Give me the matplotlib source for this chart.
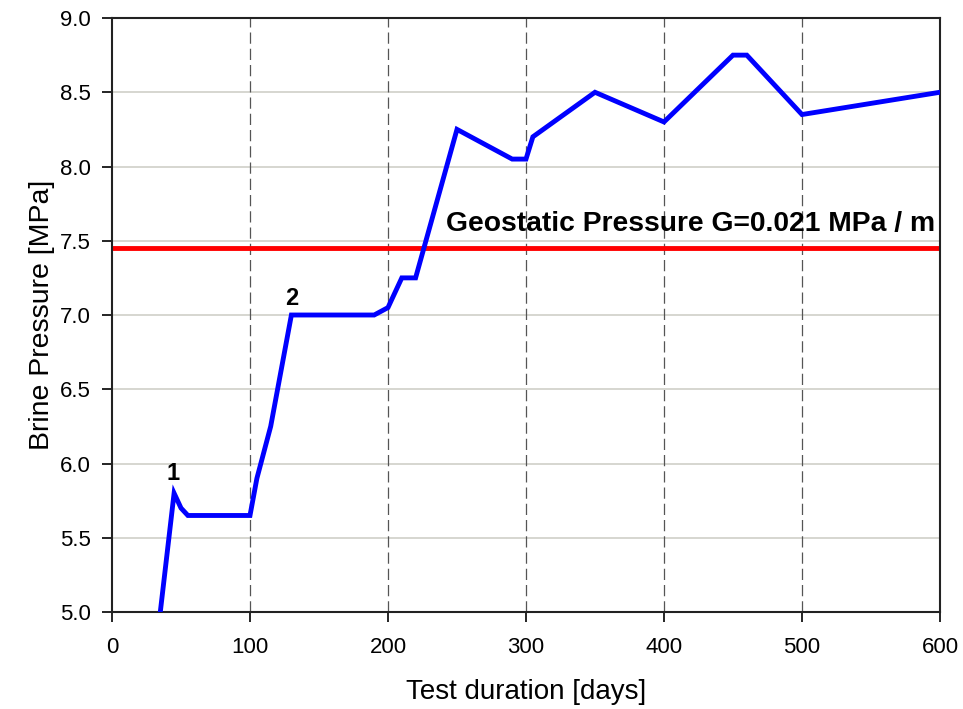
import numpy as np
import matplotlib
matplotlib.use("Agg")
import matplotlib.pyplot as plt

# brine pressure record
days = [35, 45, 50, 55, 100, 105, 115, 130, 190, 200, 210, 220, 250, 290, 300, 305, 350, 400, 450, 460, 500, 600]
pressure = [5.0, 5.8, 5.7, 5.65, 5.65, 5.9, 6.25, 7.0, 7.0, 7.05, 7.25, 7.25, 8.25, 8.05, 8.05, 8.2, 8.5, 8.3, 8.75, 8.75, 8.35, 8.5]
geostatic = 7.45
geo_label = "Geostatic Pressure G=0.021 MPa / m"
x_ticks = [0, 100, 200, 300, 400, 500, 600]
y_ticks = [5.0, 5.5, 6.0, 6.5, 7.0, 7.5, 8.0, 8.5, 9.0]

plt.rcParams['font.family'] = ['Liberation Sans', 'DejaVu Sans']

fig = plt.figure(figsize=(9.63, 7.09), dpi=100)
ax = fig.add_axes([0.1163, 0.1368, 0.8598, 0.8378])

# grid: light solid horizontals, dark dashed verticals
for y in y_ticks[1:-1]:
    ax.axhline(y, color='#d0d0c8', lw=1.2, zorder=1)
for x in x_ticks[1:-1]:
    ax.axvline(x, color='#555555', lw=0.9, ls=(0, (9, 4)), zorder=1)

ax.axhline(geostatic, color='#ff0000', lw=3.5, zorder=2)
ax.plot(days, pressure, color='#0000ff', lw=3.5, zorder=3, solid_joinstyle='miter')

ax.text(242, 7.61, geo_label, fontsize=20.3, fontweight='bold', va='center', ha='left', zorder=4)
ax.text(44, 5.93, "1", fontsize=17, fontweight='bold', ha='center', va='center')
ax.text(130, 7.11, "2", fontsize=17, fontweight='bold', ha='center', va='center')

ax.set_xlim(0, 600)
ax.set_ylim(5.0, 9.0)
ax.set_xticks(x_ticks)
ax.set_yticks(y_ticks)
ax.set_yticklabels(["%.1f" % v for v in y_ticks])
ax.tick_params(direction='out', length=7, width=1.2)
ax.tick_params(axis='y', labelsize=16, pad=8)
ax.tick_params(axis='x', labelsize=16, pad=11)
for s in ax.spines.values():
    s.set_linewidth(1.5)
    s.set_color('#222222')

ax.set_xlabel("Test duration [days]", fontsize=20, labelpad=15)
ax.set_ylabel("Brine Pressure [MPa]", fontsize=20.5, labelpad=4)

fig.savefig("out.png", dpi=100)
